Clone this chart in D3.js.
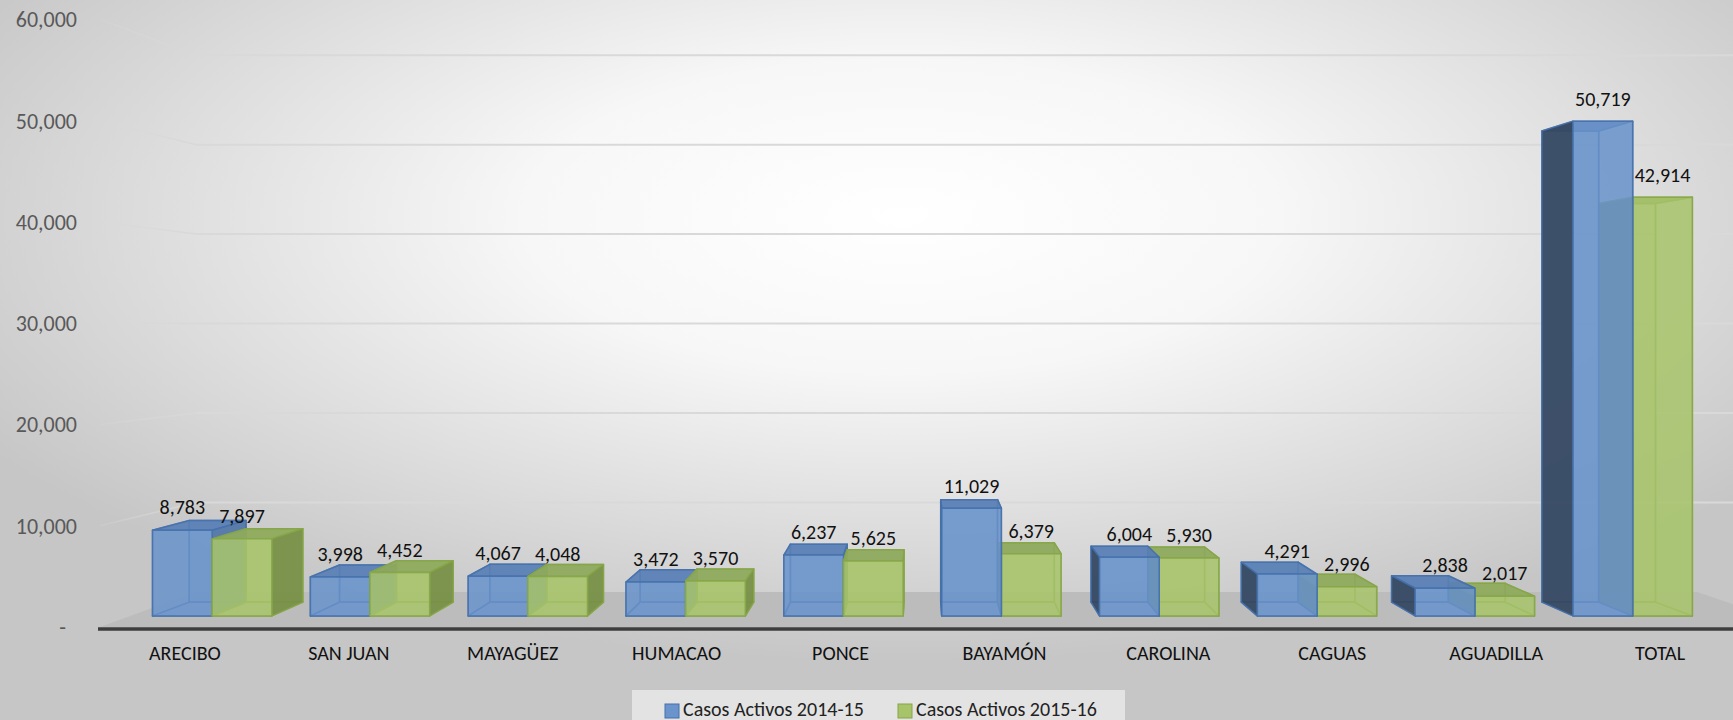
<!DOCTYPE html>
<html lang="es">
<head>
<meta charset="UTF-8">
<title>Casos Activos por Región</title>
<script src="https://d3js.org/d3.v7.min.js"></script>
<style>
  body { margin: 0; background: #d0d0d0; }
  svg { display: block; }
  text { font-family: Carlito, Lato, "Liberation Sans", sans-serif; }
  .tick-label { font-size: 22px; fill: #595959; }
  .cat-label { font-size: 20px; fill: #111; }
  .data-label { font-size: 20px; fill: #111; }
  .legend-label { font-size: 20px; fill: #222; }
</style>
</head>
<body>
<div id="chart"></div>
<script>
// datos
const categories = ["ARECIBO", "SAN JUAN", "MAYAGÜEZ", "HUMACAO", "PONCE", "BAYAMÓN", "CAROLINA", "CAGUAS", "AGUADILLA", "TOTAL"];
const casos2014 = [8783, 3998, 4067, 3472, 6237, 11029, 6004, 4291, 2838, 50719];
const casos2015 = [7897, 4452, 4048, 3570, 5625, 6379, 5930, 2996, 2017, 42914];
const seriesNames = ["Casos Activos 2014-15", "Casos Activos 2015-16"];
const yTicks = [0, 10000, 20000, 30000, 40000, 50000, 60000];

const W = 1733, H = 720;

// colores por serie
const palette = [
  { front: "#6a94cb", stroke: "#4571ab", top: "#5a80b5", sideL: "#34465f", sideR: "#5577a8" },
  { front: "#a7c46b", stroke: "#86a646", top: "#8ea95c", sideL: "#6f8744", sideR: "#768f47" }
];

// perspectiva (punto de fuga y profundidades)
const vp = [921, 327];
const dFront = 0.037, dBack = 0.083, dWall = 0.117;
const proj = (x, y, d) => [x + d * (vp[0] - x), y + d * (vp[1] - y)];

const svg = d3.select("#chart").append("svg")
  .attr("width", W).attr("height", H);

// fondo degradado
const defs = svg.append("defs");
const bg = defs.append("radialGradient").attr("id", "bg")
  .attr("cx", "52%").attr("cy", "30%").attr("r", "62%");
bg.append("stop").attr("offset", "0%").attr("stop-color", "#ffffff");
bg.append("stop").attr("offset", "35%").attr("stop-color", "#f7f7f7");
bg.append("stop").attr("offset", "100%").attr("stop-color", "#c6c6c6");
svg.append("rect").attr("width", W).attr("height", H).attr("fill", "url(#bg)");

const wallFade = defs.append("linearGradient").attr("id", "wallFade")
  .attr("x1", "0%").attr("x2", "100%");
wallFade.append("stop").attr("offset", "0%").attr("stop-color", "#d8d8d8").attr("stop-opacity", 0.2);
wallFade.append("stop").attr("offset", "100%").attr("stop-color", "#d8d8d8").attr("stop-opacity", 1);

// escalas (plano frontal)
const y = d3.scaleLinear().domain([0, 60000]).range([627, 19.2]);
const x = d3.scaleBand().domain(categories).range([103, 1742]);
const xs = d3.scaleBand().domain([0, 1])
  .range([x.bandwidth() * 0.122, x.bandwidth() * 0.878]);

const floorL = 100, floorR = 1800;

// líneas de la pared
const grid = svg.append("g");
yTicks.filter(v => v > 0).forEach(v => {
  const a = [floorL, y(v)];
  const b = proj(floorL, y(v), dWall);
  grid.append("line")
    .attr("x1", a[0]).attr("y1", a[1]).attr("x2", b[0]).attr("y2", b[1])
    .attr("stroke", "url(#wallFade)").attr("stroke-width", 1.5);
  grid.append("line")
    .attr("x1", b[0]).attr("y1", b[1]).attr("x2", W).attr("y2", b[1])
    .attr("stroke", "#d9d9d9").attr("stroke-width", 2);
});

// piso
const fl = [[floorL, y(0)], [floorR, y(0)], proj(floorR, y(0), dWall), proj(floorL, y(0), dWall)];
svg.append("polygon").attr("points", fl.map(p => p.join(",")).join(" "))
  .attr("fill", "#bcbcbc");
svg.append("line")
  .attr("x1", floorL - 2).attr("x2", W).attr("y1", y(0) + 2).attr("y2", y(0) + 2)
  .attr("stroke", "#3d3d3d").attr("stroke-width", 3.5);

// barras
const bars = [];
categories.forEach((c, i) => {
  [casos2014[i], casos2015[i]].forEach((v, s) => {
    const x0 = x(c) + xs(s), x1 = x0 + xs.bandwidth();
    bars.push({ c, s, v, x0, x1 });
  });
});
bars.sort((a, b) => Math.abs((b.x0 + b.x1) / 2 - vp[0]) - Math.abs((a.x0 + a.x1) / 2 - vp[0]));

const pts = arr => arr.map(p => p.join(",")).join(" ");
const barG = svg.append("g");

bars.forEach(b => {
  const col = palette[b.s];
  const yt = y(b.v), yb = y(0);
  const F = [proj(b.x0, yt, dFront), proj(b.x1, yt, dFront), proj(b.x1, yb, dFront), proj(b.x0, yb, dFront)];
  const B = [proj(b.x0, yt, dBack), proj(b.x1, yt, dBack), proj(b.x1, yb, dBack), proj(b.x0, yb, dBack)];
  const left = [F[0], B[0], B[3], F[3]];
  const right = [F[1], B[1], B[2], F[2]];
  const topF = [F[0], F[1], B[1], B[0]];
  const bottom = [F[3], F[2], B[2], B[3]];
  const leftVis = b.x0 > vp[0];
  const rightVis = b.x1 < vp[0];

  const g = barG.append("g")
    .attr("stroke", col.stroke).attr("stroke-width", 1.5)
    .attr("stroke-linejoin", "round").attr("stroke-opacity", 0.85);

  const face = (p, fill, op) => g.append("polygon")
    .attr("points", pts(p)).attr("fill", fill).attr("fill-opacity", op);

  face(B, col.front, 0.5);
  face(bottom, col.front, 0.4);
  if (!leftVis) face(left, col.front, 0.35);
  if (!rightVis) face(right, col.front, 0.35);
  face(topF, col.top, 0.9);
  if (leftVis) face(left, col.sideL, 0.92);
  if (rightVis) face(right, col.sideR, 0.92);
  face(F, col.front, 0.8);
});

// etiquetas de datos
const fmt = d3.format(",");
svg.append("g").selectAll("text").data(bars).join("text")
  .attr("class", "data-label")
  .attr("text-anchor", "middle")
  .attr("x", d => proj((d.x0 + d.x1) / 2, y(d.v), dFront)[0])
  .attr("y", d => 0.961 * y(d.v) - 9.6 + 7)
  .text(d => fmt(d.v));

// eje Y
svg.append("g").selectAll("text").data(yTicks).join("text")
  .attr("class", "tick-label")
  .attr("text-anchor", "end")
  .attr("x", d => d === 0 ? 66 : 77)
  .attr("y", d => y(d) + 8)
  .text(d => d === 0 ? "-" : fmt(d));

// eje X
svg.append("g").selectAll("text").data(categories).join("text")
  .attr("class", "cat-label")
  .attr("text-anchor", "middle")
  .attr("x", d => x(d) + x.bandwidth() / 2)
  .attr("y", 660)
  .text(d => d);

// leyenda
const legend = svg.append("g");
legend.append("rect").attr("x", 632).attr("y", 690).attr("width", 493).attr("height", 30)
  .attr("fill", "#efefef").attr("fill-opacity", 0.7);
const legX = [665, 898];
seriesNames.forEach((name, i) => {
  legend.append("rect").attr("x", legX[i]).attr("y", 704).attr("width", 14).attr("height", 14)
    .attr("fill", palette[i].front).attr("stroke", palette[i].stroke).attr("stroke-width", 1);
  legend.append("text").attr("class", "legend-label")
    .attr("x", legX[i] + 18).attr("y", 716).text(name);
});
</script>
</body>
</html>
